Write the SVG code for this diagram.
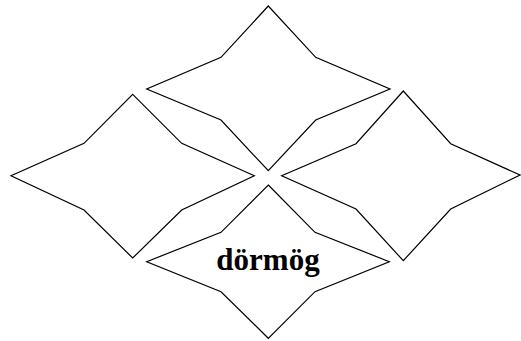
<svg xmlns="http://www.w3.org/2000/svg" width="521" height="341" viewBox="0 0 521 341">
<style>
.star{fill:#fff;stroke:#000;stroke-width:1.2;stroke-linejoin:miter}
.lbl{font-family:"Liberation Serif","Times New Roman",serif;font-weight:bold;font-size:31px;fill:#000;text-anchor:middle}
</style>
<rect width="521" height="341" fill="#fff"/>
<g id="top">
<polygon class="star" points="268.3,6 315.7,57.3 390,89 315.7,120 268.3,170.7 221,120 146.7,89 221,57.3"/>
</g>
<g id="left">
<polygon class="star" points="132.7,94.3 181.7,143.3 254.3,175.7 181.7,210 132.7,258 84,210 11,175.7 84,143.3"/>
</g>
<g id="right">
<polygon class="star" points="403.3,91 450.7,143.7 520,175 450.7,209 403.3,260.7 356,209 281.7,175.7 356,143.7"/>
</g>
<g id="bottom">
<polygon class="star" points="268.3,185 315,232.3 389.3,261.7 315,291.7 268.3,338.3 221,291.7 146.7,261.7 221,232.3"/>
<text class="lbl" x="268" y="270">dörmög</text>
</g>
<g id="connectors"></g>
</svg>
